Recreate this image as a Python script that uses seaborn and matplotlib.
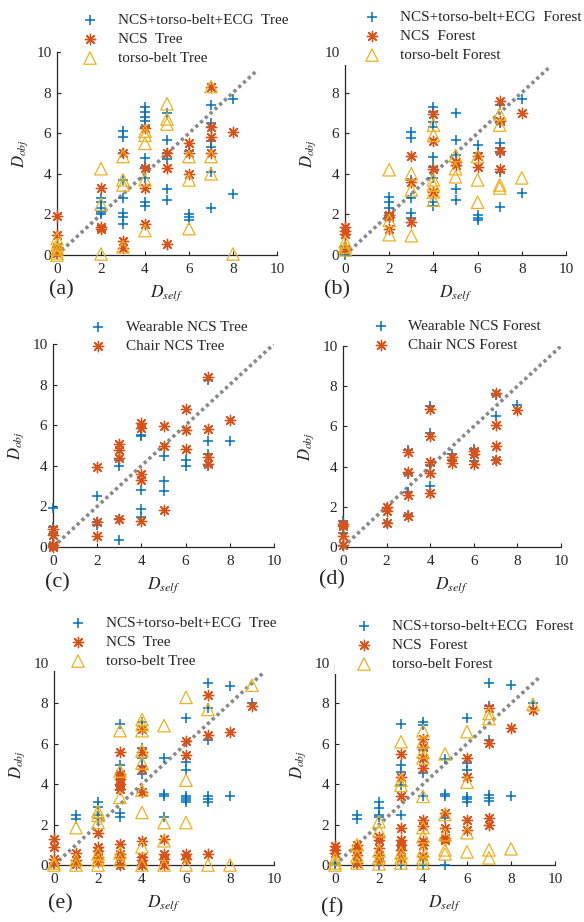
import matplotlib
matplotlib.use("Agg")
import matplotlib.pyplot as plt
import seaborn as sns
import pandas as pd

# ---------------- data (x = D_self, lists = D_obj values) ----------------
# Panel (a) - Tree
A_ECG = {0: [0.0, 0.2, 0.4], 2: [2.8, 2.6, 2.3, 2.1, 2.0],
         3: [6.1, 5.8, 5.0, 3.7, 2.8, 2.05, 1.85, 1.55],
         4: [7.3, 7.05, 6.8, 6.6, 6.3, 4.8, 4.35, 3.8, 2.6, 2.4],
         5: [7.0, 5.65, 5.0, 4.75, 3.25, 2.7], 6: [5.1, 2.0, 1.85, 1.7],
         7: [7.4, 6.5, 6.3, 5.6, 5.3, 4.1, 2.3], 8: [7.7, 3.0]}
A_NCS = {0: [1.9, 1.0, 0.4, 0.1], 2: [3.3, 1.4, 1.3], 3: [5.0, 0.7, 0.35],
         4: [6.25, 4.3, 3.3, 1.55], 5: [5.0, 4.3, 0.55], 6: [5.5, 5.0, 4.0],
         7: [8.3, 6.3, 5.8, 5.0], 8: [6.05]}
A_BELT = {0: [0.8, 0.5, 0.3, 0.1, 0.0], 2: [4.25, 2.5, 0.05],
          3: [4.85, 3.7, 3.45, 0.4], 4: [6.1, 5.9, 5.5, 3.7, 1.2],
          5: [7.45, 6.7, 6.45], 6: [4.85, 3.7, 1.3], 7: [8.3, 4.85, 4.0], 8: [0.05]}

# Panel (b) - Forest
B_ECG = {0: [0.4, 0.15, 0.0], 2: [2.85, 2.6, 2.3, 2.05, 1.9],
         3: [6.05, 5.75, 3.7, 2.8, 2.05, 1.8],
         4: [7.3, 7.05, 6.55, 6.3, 4.85, 4.35, 3.8, 2.6, 2.4],
         5: [7.0, 5.65, 4.95, 3.25, 2.7], 6: [5.4, 5.0, 1.95, 1.8, 1.7],
         7: [7.4, 6.5, 5.5, 5.25, 5.0, 4.1, 2.35], 8: [7.7, 3.05]}
B_NCS = {0: [1.4, 1.2, 1.05, 0.3], 2: [1.95, 1.85, 1.3], 3: [4.9, 3.6, 1.65],
         4: [6.95, 5.6, 4.25, 3.1], 5: [4.6, 4.45], 6: [4.9, 4.35],
         7: [7.6, 6.6, 5.1, 4.25], 8: [7.0]}
B_BELT = {0: [0.65, 0.4, 0.25], 2: [4.2, 1.7, 1.0], 3: [4.0, 3.2, 0.95],
          4: [6.4, 5.9, 3.7, 3.45, 3.1, 2.7], 5: [4.9, 4.25, 3.85],
          6: [4.85, 3.7, 2.6], 7: [6.95, 6.4, 3.45, 3.3], 8: [3.8]}

# Panel (c) - Tree, wearable vs chair
C_WEAR = {0: [1.9, 1.0, 0.65, 0.15, 0.0], 2: [2.5, 1.25, 1.1],
          3: [4.3, 4.0, 1.4, 0.35], 4: [5.5, 5.45, 2.8, 1.85, 1.5],
          5: [4.5, 3.25, 2.75], 6: [4.3, 4.0], 7: [8.25, 5.2, 4.6, 4.0], 8: [5.2]}
C_CHAIR = {0: [0.9, 0.6, 0.1, 0.0], 2: [3.95, 1.25, 0.55],
           3: [5.05, 4.8, 4.4, 1.4], 4: [6.1, 5.85, 3.6, 3.3, 1.3],
           5: [5.95, 5.0, 1.8], 6: [6.8, 5.75, 4.85],
           7: [8.35, 5.8, 4.45, 4.1], 8: [6.25]}

# Panel (d) - Forest, wearable vs chair
D_WEAR = {0: [1.3, 1.05, 0.7, 0.05], 2: [1.95, 1.2], 3: [4.85, 3.65, 2.75, 1.6],
          4: [7.0, 5.65, 4.1, 3.05], 5: [4.65, 4.35], 6: [4.9, 4.3],
          7: [7.55, 6.5, 4.35], 8: [7.05]}
D_CHAIR = {0: [1.15, 1.05, 0.55, 0.1], 2: [2.0, 1.8, 1.2],
           3: [4.75, 3.75, 2.6, 1.55], 4: [6.85, 5.5, 4.25, 3.7, 2.7],
           5: [4.5, 4.2], 6: [4.8, 4.65, 4.15], 7: [7.65, 6.05, 5.0, 4.35], 8: [6.8]}

# Panel (e) - Tree
E_ECG = {0: [0.0, 0.1], 1: [2.5, 2.3], 2: [3.1, 2.85, 2.5, 2.35],
         3: [7.0, 4.95, 4.55, 3.9, 3.7, 2.55, 2.4, 0.0],
         4: [7.1, 6.9, 5.8, 5.3, 4.9, 4.5, 3.6, 0.0],
         5: [5.3, 3.5, 3.4, 2.4], 6: [7.3, 5.1, 4.7, 3.4, 3.3, 3.2, 3.1],
         7: [9.0, 7.75, 6.2, 3.4, 3.25, 3.1], 8: [8.85, 3.4], 9: [8.0]}
E_NCS = {0: [1.3, 0.9, 0.3, 0.1], 1: [0.6, 0.25, 0.05],
         2: [1.6, 0.9, 0.7, 0.4, 0.15],
         3: [5.6, 4.5, 4.25, 4.0, 3.75, 1.05, 0.55, 0.4, 0.0],
         4: [6.75, 5.6, 4.75, 3.6, 1.2, 0.4, 0.25, 0.0],
         5: [1.3, 0.55, 0.3, 0.0], 6: [6.15, 5.45, 0.55, 0.3],
         7: [8.4, 6.45, 0.55], 8: [6.6], 9: [7.85]}
E_BELT = {0: [0.0, 0.1], 1: [1.85, 0.25, 0.0], 2: [2.65, 2.45, 2.1, 0.55, 0.25, 0.0],
          3: [6.65, 4.65, 3.35, 0.6, 0.25],
          4: [7.2, 6.95, 6.65, 5.65, 5.05, 3.7, 2.6, 0.9, 0.0],
          5: [6.9, 2.1, 1.2, 0.0], 6: [8.3, 4.2, 2.1, 0.0], 7: [7.7, 0.0],
          8: [0.0], 9: [8.9]}

# Panel (f) - Forest
F_ECG = {0: [0.0, 0.1], 1: [2.5, 2.3, 0.05], 2: [3.1, 2.8, 2.5, 2.4, 0.0],
         3: [7.0, 4.95, 4.6, 3.95, 2.5, 0.0],
         4: [7.1, 6.95, 5.7, 5.3, 4.55, 3.4, 0.4, 0.0],
         5: [5.25, 3.5, 3.4, 2.35, 0.0], 6: [7.3, 5.05, 4.7, 3.35, 3.25, 3.1],
         7: [9.0, 7.85, 6.2, 3.45, 3.3, 3.15], 8: [8.9, 3.4], 9: [8.0]}
F_NCS = {0: [0.95, 0.75, 0.6], 1: [1.0, 0.8, 0.5, 0.1], 2: [1.4, 1.25, 0.85, 0.5, 0.2],
         3: [5.5, 4.35, 3.4, 1.85, 1.25, 1.0, 0.75, 0.35],
         4: [6.25, 5.85, 5.3, 4.8, 2.25, 1.95, 1.2, 1.0, 0.45],
         5: [2.55, 1.85, 1.35, 1.25], 6: [5.3, 4.35, 2.25, 1.75],
         7: [7.75, 6.05, 2.35, 2.0], 8: [6.8], 9: [7.65]}
F_BELT = {0: [0.3, 0.1, 0.0], 1: [1.0, 0.45, 0.1], 2: [2.15, 1.7, 0.7, 0.35, 0.05],
          3: [6.1, 4.2, 3.95, 0.6, 0.35, 0.1],
          4: [6.65, 6.1, 5.6, 5.3, 3.4, 1.85, 1.4, 0.7, 0.35, 0.1],
          5: [5.5, 2.5, 1.5, 0.75, 0.55], 6: [6.6, 4.1, 1.6, 0.65],
          7: [7.5, 7.25, 0.75, 0.35], 8: [0.8], 9: [7.95]}

LABELS_A = ["NCS+torso-belt+ECG  Tree", "NCS  Tree", "torso-belt Tree"]
LABELS_B = ["NCS+torso-belt+ECG  Forest", "NCS  Forest", "torso-belt Forest"]
LABELS_C = ["Wearable NCS Tree", "Chair NCS Tree"]
LABELS_D = ["Wearable NCS Forest", "Chair NCS Forest"]
TAGS = ["(a)", "(b)", "(c)", "(d)", "(e)", "(f)"]
DIAG_END = [9.1, 9.2, 10.0, 10.0, 9.5, 9.35]
TICKS = [0, 2, 4, 6, 8, 10]

# ---------------- style ----------------
sns.set_theme(style="ticks")
plt.rcParams["font.family"] = ["Liberation Serif", "DejaVu Serif"]
plt.rcParams["mathtext.fontset"] = "stix"

BLUE, ORANGE, YELLOW = "#0072BD", "#D95319", "#EDB120"
STYLE = {
    "plus": dict(marker="+", s=55, linewidth=1.1),
    "star": dict(marker=(8, 2, 0), s=55, linewidth=1.0),
    "tri": dict(marker="^", s=80, linewidth=0.9),
}
W, H = 584, 922
FS = 11.0
fig = plt.figure(figsize=(W / 100, H / 100), dpi=100)


def to_df(d):
    rows = [(x, y) for x, ys in d.items() for y in ys]
    return pd.DataFrame(rows, columns=["x", "y"])


def panel(rect_px, series, labels, kinds, diag_end, tag, tag_px, leg_px):
    l, r, t, b = rect_px
    ax = fig.add_axes([l / W, 1 - b / H, (r - l) / W, (b - t) / H])
    ax.plot([0, diag_end], [0, diag_end], color="#8a8a8a", lw=2.6,
            linestyle=(0, (0.9, 0.9)), zorder=1)
    for d, lab, kind in zip(series, labels, kinds):
        df = to_df(d)
        if kind == "plus":
            sns.scatterplot(data=df, x="x", y="y", ax=ax, color=BLUE, label=lab,
                            clip_on=False, zorder=3, **STYLE["plus"])
        elif kind == "star":
            sns.scatterplot(data=df, x="x", y="y", ax=ax, color=ORANGE, label=lab,
                            clip_on=False, zorder=4, **STYLE["star"])
        else:
            sns.scatterplot(data=df, x="x", y="y", ax=ax, color=YELLOW,
                            facecolor="none", edgecolor=YELLOW, label=lab,
                            clip_on=False, zorder=5, **STYLE["tri"])
    ax.set_xlim(0, 10)
    ax.set_ylim(0, 10)
    ax.set_xticks(TICKS)
    ax.set_yticks(TICKS)
    ax.tick_params(direction="in", length=3, width=0.8, labelsize=FS,
                   colors="#262626", pad=4)
    ax.tick_params(axis="x", pad=6)
    for s in ["top", "right"]:
        ax.spines[s].set_visible(False)
    for s in ["left", "bottom"]:
        ax.spines[s].set_linewidth(0.9)
        ax.spines[s].set_color("#262626")
    ax.set_xlabel(r"$D_{self}$", fontsize=12.5, color="#262626")
    ax.set_ylabel(r"$D_{obj}$", fontsize=12, color="#262626")
    ax.xaxis.set_label_coords(0.5, -(28) / (b - t))
    ax.yaxis.set_label_coords(-(27) / (r - l), 0.5)
    # legend
    mx, my = leg_px
    fs_px = FS * 100 / 72
    hl, bp, ls = 3.4, 0.2, 0.36
    row_h = 0.92 * fs_px
    ax_left = mx - hl * fs_px / 2 - bp * fs_px
    ax_top = my - row_h / 2 - bp * fs_px
    leg = ax.legend(loc="upper left", bbox_to_anchor=(ax_left / W, 1 - ax_top / H),
                    bbox_transform=fig.transFigure, borderaxespad=0,
                    fontsize=FS, frameon=True, framealpha=1, facecolor="white",
                    edgecolor="none", fancybox=False, borderpad=bp,
                    handlelength=hl, handletextpad=0.1, labelspacing=ls)
    for txt in leg.get_texts():
        txt.set_color("#262626")
    fig.text(tag_px[0] / W, 1 - tag_px[1] / H, tag, ha="center", va="center",
             fontsize=16, color="#262626")
    return ax


panel((57, 277, 52, 255), [A_ECG, A_NCS, A_BELT], LABELS_A, ["plus", "star", "tri"],
      DIAG_END[0], TAGS[0], (61, 290), (90, 20))
panel((345, 566, 52, 255), [B_ECG, B_NCS, B_BELT], LABELS_B, ["plus", "star", "tri"],
      DIAG_END[1], TAGS[1], (337, 290), (372, 17))
panel((53, 274, 344, 547), [C_WEAR, C_CHAIR], LABELS_C, ["plus", "star"],
      DIAG_END[2], TAGS[2], (57, 583), (98, 327))
panel((343, 561, 346, 547), [D_WEAR, D_CHAIR], LABELS_D, ["plus", "star"],
      DIAG_END[3], TAGS[3], (332, 580), (381, 326))
panel((54, 274, 663, 865), [E_ECG, E_NCS, E_BELT], LABELS_A, ["plus", "star", "tri"],
      DIAG_END[4], TAGS[4], (60, 904), (78, 623))
panel((335, 555, 663, 865), [F_ECG, F_NCS, F_BELT], LABELS_B, ["plus", "star", "tri"],
      DIAG_END[5], TAGS[5], (332, 908), (364, 626))

fig.savefig("out.png", dpi=100, facecolor="white")
